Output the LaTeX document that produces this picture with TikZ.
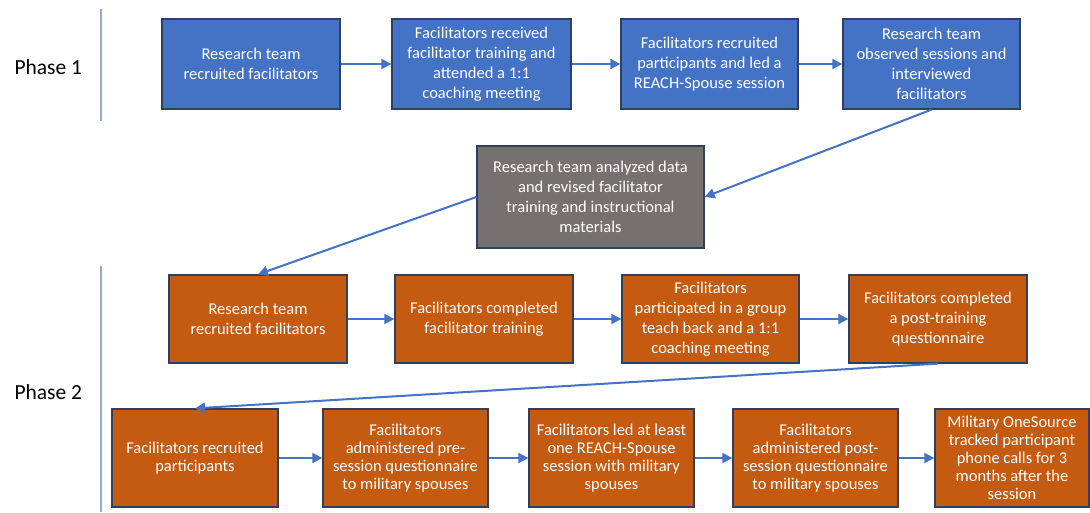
\documentclass[tikz,border=0pt]{standalone}
\usepackage{fontspec}
\setmainfont{Carlito}
\usepackage{xcolor}
\usetikzlibrary{arrows.meta}
\definecolor{stepblue}{HTML}{4472C4}
\definecolor{steporange}{HTML}{C55A11}
\definecolor{stepgray}{HTML}{767171}
\definecolor{edgenavy}{HTML}{2F3F62}
\definecolor{dividerblue}{HTML}{8FAADC}

\begin{document}
\begin{tikzpicture}[
    x=1pt, y=-1pt,
    box/.style={rectangle, draw=edgenavy, line width=1.3pt, text=white, align=center, inner sep=0pt, font=\fontsize{16.5}{20}\selectfont},
    oneblock/.style={box, fill=stepblue, minimum width=178pt, minimum height=90pt},
    twoblock/.style={box, fill=steporange, minimum width=178pt, minimum height=88pt},
    lowblock/.style={box, fill=steporange, minimum width=165pt, minimum height=98pt, font=\fontsize{16.5}{18}\selectfont},
    arrow/.style={-{Triangle[length=10pt,width=10pt]}, draw=stepblue, line width=2pt},
    phase/.style={anchor=west, font=\fontsize{21.5}{26}\selectfont},
    divider/.style={draw=dividerblue, line width=1.5pt}
]
    \useasboundingbox (0,0) rectangle (1090,512);

    \node[phase] (phaseone) at (11,67) {Phase 1};
    \node[phase] (phasetwo) at (11,392) {Phase 2};
    \draw[divider] (101,9) -- (101,121);
    \draw[divider] (101,266) -- (101,512);

    \node[oneblock] (recruit1) at (251,64) {Research team\\recruited facilitators};
    \node[oneblock, minimum width=179pt] (train1) at (481.5,64) {Facilitators received\\facilitator training and\\attended a 1:1\\coaching meeting};
    \node[oneblock, minimum width=177pt] (lead1) at (709.5,64) {Facilitators recruited\\participants and led a\\REACH-Spouse session};
    \node[oneblock, minimum width=177pt] (observe1) at (931.5,64) {Research team\\observed sessions and\\interviewed\\facilitators};

    \node[box, fill=stepgray, minimum width=227pt, minimum height=102pt] (revise) at (590.5,197) {Research team analyzed data\\and revised facilitator\\training and instructional\\materials};

    \node[twoblock] (recruit2) at (258,319) {Research team\\recruited facilitators};
    \node[twoblock] (train2) at (484,319) {Facilitators completed\\facilitator training};
    \node[twoblock, minimum width=177pt] (teach2) at (710.5,319) {Facilitators\\participated in a group\\teach back and a 1:1\\coaching meeting};
    \node[twoblock] (posttrain2) at (938,319) {Facilitators completed\\a post-training\\questionnaire};

    \node[lowblock, minimum width=166pt] (spouses2) at (195,458) {Facilitators recruited\\participants};
    \node[lowblock] (pre2) at (405.5,458) {Facilitators\\administered pre-\\session questionnaire\\to military spouses};
    \node[lowblock] (session2) at (611.5,458) {Facilitators led at least\\one REACH-Spouse\\session with military\\spouses};
    \node[lowblock] (post2) at (815.5,458) {Facilitators\\administered post-\\session questionnaire\\to military spouses};
    \node[lowblock, minimum width=154pt] (calls2) at (1012,458) {Military OneSource\\tracked participant\\phone calls for 3\\months after the\\session};

    \draw[arrow] (recruit1) -- (train1);
    \draw[arrow] (train1) -- (lead1);
    \draw[arrow] (lead1) -- (observe1);
    \draw[arrow] (observe1.south) -- (revise.east);
    \draw[arrow] (revise.west) -- (recruit2.north);
    \draw[arrow] (recruit2) -- (train2);
    \draw[arrow] (train2) -- (teach2);
    \draw[arrow] (teach2) -- (posttrain2);
    \draw[arrow] (posttrain2.south) -- (spouses2.north);
    \draw[arrow] (spouses2) -- (pre2);
    \draw[arrow] (pre2) -- (session2);
    \draw[arrow] (session2) -- (post2);
    \draw[arrow] (post2) -- (calls2);
\end{tikzpicture}
\end{document}
